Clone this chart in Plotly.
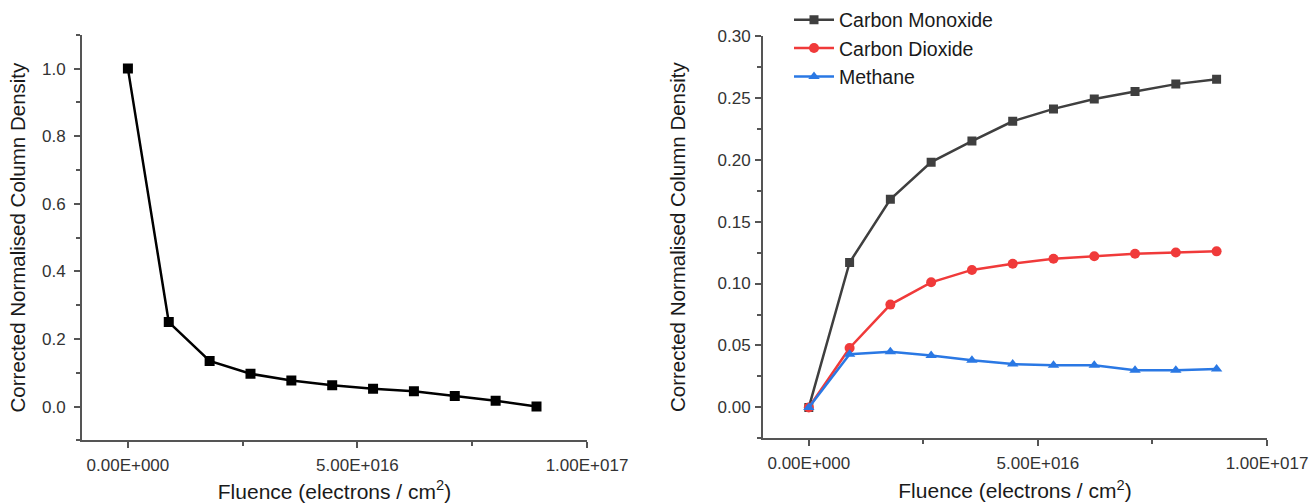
import plotly.graph_objects as go

# Data
fluence = [0.0, 8.9e15, 1.78e16, 2.67e16, 3.56e16, 4.45e16, 5.34e16, 6.23e16, 7.12e16, 8.01e16, 8.9e16]
reactant = [1.0, 0.25, 0.135, 0.097, 0.077, 0.063, 0.053, 0.045, 0.031, 0.017, 0.0]
co = [0.0, 0.117, 0.168, 0.198, 0.215, 0.231, 0.241, 0.249, 0.255, 0.261, 0.265]
co2 = [0.0, 0.048, 0.083, 0.101, 0.111, 0.116, 0.120, 0.122, 0.124, 0.125, 0.126]
ch4 = [0.0, 0.043, 0.045, 0.042, 0.038, 0.035, 0.034, 0.034, 0.030, 0.030, 0.031]

x_tickvals = [0.0, 5e16, 1e17]
x_ticktext = ["0.00E+000", "5.00E+016", "1.00E+017"]
left_yticks = [0.0, 0.2, 0.4, 0.6, 0.8, 1.0]
right_yticks = [0.0, 0.05, 0.10, 0.15, 0.20, 0.25, 0.30]

W, H = 1311, 503
FONT = "Liberation Sans, Arial, sans-serif"
AXC = "#555555"
TXC = "#333333"
TITLEC = "#1a1a1a"

fig = go.Figure()

fig.add_trace(go.Scatter(x=fluence, y=reactant, mode="lines+markers", showlegend=False,
                         line=dict(color="#000000", width=2.5),
                         marker=dict(symbol="square", size=10, color="#000000"),
                         xaxis="x", yaxis="y"))

fig.add_trace(go.Scatter(x=fluence, y=co, mode="lines+markers", name="Carbon Monoxide",
                         line=dict(color="#3f3f3f", width=2.5),
                         marker=dict(symbol="square", size=9, color="#3f3f3f"),
                         xaxis="x2", yaxis="y2"))
fig.add_trace(go.Scatter(x=fluence, y=co2, mode="lines+markers", name="Carbon Dioxide",
                         line=dict(color="#f03a3a", width=2.5),
                         marker=dict(symbol="circle", size=10, color="#f03a3a"),
                         xaxis="x2", yaxis="y2"))
fig.add_trace(go.Scatter(x=fluence, y=ch4, mode="lines+markers", name="Methane",
                         line=dict(color="#2a78e4", width=2.5),
                         marker=dict(symbol="triangle-up", size=10, color="#2a78e4"),
                         xaxis="x2", yaxis="y2"))

def px(v):
    return v / W

def py(v):
    return 1 - v / H

common_x = dict(range=[-1e16, 1e17], tickmode="array", tickvals=x_tickvals, ticktext=x_ticktext,
                showline=True, linecolor=AXC, linewidth=2, ticks="outside", ticklen=6, tickwidth=2,
                tickcolor=AXC, showgrid=False, zeroline=False, ticklabelstandoff=2,
                automargin=False,
                tickfont=dict(family=FONT, size=17, color=TXC),
                minor=dict(tickmode="linear", tick0=0, dtick=2.5e16, ticks="outside", ticklen=4,
                           tickwidth=2, tickcolor=AXC),
                title=dict(text="Fluence (electrons / cm<sup>2</sup>)",
                           font=dict(family=FONT, size=21, color=TITLEC), standoff=12))
common_y = dict(showline=True, linecolor=AXC, linewidth=2, ticks="outside", ticklen=6, tickwidth=2,
                tickcolor=AXC, showgrid=False, zeroline=False,
                automargin=False,
                tickfont=dict(family=FONT, size=17, color=TXC))

fig.update_layout(
    width=W, height=H,
    margin=dict(l=0, r=0, t=0, b=0),
    paper_bgcolor="white", plot_bgcolor="white",
    xaxis=dict(common_x, domain=[px(82), px(587)], anchor="y"),
    yaxis=dict(common_y, domain=[py(440), py(32)], anchor="x", range=[-0.1, 1.1],
               ticklabelstandoff=5,
               tickmode="array", tickvals=left_yticks, ticktext=[f"{v:.1f}" for v in left_yticks],
               minor=dict(tickmode="linear", tick0=0, dtick=0.1, ticks="outside", ticklen=4,
                          tickwidth=2, tickcolor=AXC),
               title=dict(text="Corrected Normalised Column Density",
                          font=dict(family=FONT, size=20.5, color=TITLEC), standoff=11)),
    xaxis2=dict(common_x, domain=[px(763), px(1267)], anchor="y2"),
    yaxis2=dict(common_y, domain=[py(438), py(33)], anchor="x2", range=[-0.025, 0.30],
                ticklabelstandoff=1,
                tickmode="array", tickvals=right_yticks, ticktext=[f"{v:.2f}" for v in right_yticks],
                minor=dict(tickmode="linear", tick0=0, dtick=0.025, ticks="outside", ticklen=4,
                           tickwidth=2, tickcolor=AXC),
                title=dict(text="Corrected Normalised Column Density",
                           font=dict(family=FONT, size=20.5, color=TITLEC), standoff=26)),
    legend=dict(x=px(789), y=1.005, xanchor="left", yanchor="top", bgcolor="rgba(0,0,0,0)",
                font=dict(family=FONT, size=19.5, color=TITLEC), tracegroupgap=0,
                itemwidth=40),
)

fig.write_html("out.html", config={"displayModeBar": False},
               post_script="document.body.style.margin='0';")
